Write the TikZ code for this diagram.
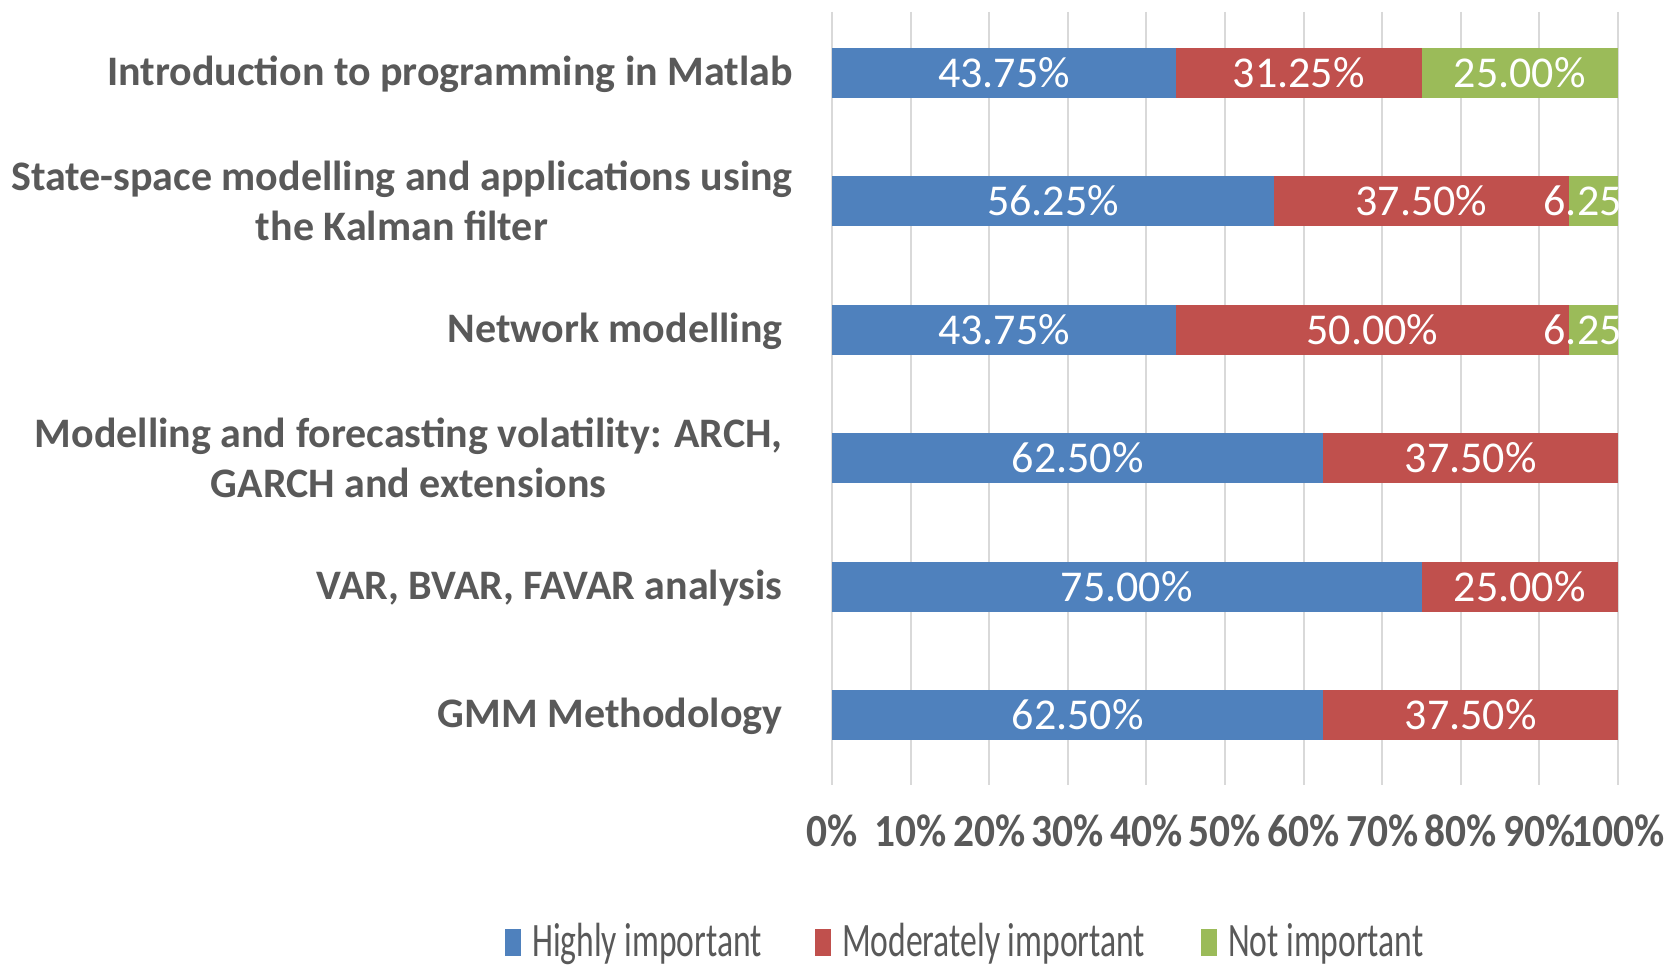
\documentclass[tikz,border=0pt]{standalone}
\usepackage{fontspec}
\setmainfont{Carlito}
\usetikzlibrary{positioning}
\definecolor{hiblue}{HTML}{4F81BD}
\definecolor{modred}{HTML}{C0504D}
\definecolor{notgreen}{HTML}{9BBB59}
\definecolor{gridgray}{HTML}{D9D9D9}
\definecolor{textgray}{HTML}{595959}

\begin{document}
\begin{tikzpicture}[x=0.5pt, y=-0.5pt,
    catlabel/.style={text=textgray, font=\fontsize{21}{25}\selectfont\bfseries, inner sep=0pt, align=center},
    val/.style={text=white, font=\fontsize{22}{26}\selectfont, inner sep=0pt},
    axlabel/.style={text=textgray, font=\fontsize{23}{27}\selectfont\bfseries, inner sep=0pt, xscale=0.9},
    legtext/.style={text=textgray, font=\fontsize{24}{28}\selectfont, inner sep=0pt, xscale=0.7},
    legmark/.style={minimum width=8pt, minimum height=13.5pt, inner sep=0pt, anchor=south west},
    gridline/.style={gridgray, line width=1pt}]

    \useasboundingbox[fill=white] (0,0) rectangle (1677,967);

    % Area del grafico: x en porcentaje
    \begin{scope}[shift={(832,0)}, x=3.93pt]
        % Lineas de la rejilla y etiquetas del eje
        \foreach \p in {0,10,...,100} {
            \draw[gridline] (\p,12) -- (\p,785);
            \node[axlabel, anchor=base] (ax\p) at (\p,847) {\p\%};
        }

        % Barras apiladas
        \fill[hiblue] (0,48) rectangle (43.75,98);
        \fill[modred] (43.75,48) rectangle (75,98);
        \fill[notgreen] (75,48) rectangle (100,98);

        \fill[hiblue] (0,176) rectangle (56.25,226);
        \fill[modred] (56.25,176) rectangle (93.75,226);
        \fill[notgreen] (93.75,176) rectangle (100,226);

        \fill[hiblue] (0,305) rectangle (43.75,355);
        \fill[modred] (43.75,305) rectangle (93.75,355);
        \fill[notgreen] (93.75,305) rectangle (100,355);

        \fill[hiblue] (0,433) rectangle (62.5,483);
        \fill[modred] (62.5,433) rectangle (100,483);

        \fill[hiblue] (0,562) rectangle (75,612);
        \fill[modred] (75,562) rectangle (100,612);

        \fill[hiblue] (0,690) rectangle (62.5,740);
        \fill[modred] (62.5,690) rectangle (100,740);

        % Valores dentro de las barras (recortados al area)
        \begin{scope}
            \clip (0,0) rectangle (100,800);
            \node[val] (v11) at (21.875,73) {43.75\%};
            \node[val] (v12) at (59.375,73) {31.25\%};
            \node[val] (v13) at (87.5,73) {25.00\%};

            \node[val] (v21) at (28.125,201) {56.25\%};
            \node[val] (v22) at (75,201) {37.50\%};
            \node[val] (v23) at (97.5,201) {6.25\%};

            \node[val] (v31) at (21.875,330) {43.75\%};
            \node[val] (v32) at (68.75,330) {50.00\%};
            \node[val] (v33) at (97.5,330) {6.25\%};

            \node[val] (v41) at (31.25,458) {62.50\%};
            \node[val] (v42) at (81.25,458) {37.50\%};

            \node[val] (v51) at (37.5,587) {75.00\%};
            \node[val] (v52) at (87.5,587) {25.00\%};

            \node[val] (v61) at (31.25,715) {62.50\%};
            \node[val] (v62) at (81.25,715) {37.50\%};
        \end{scope}
    \end{scope}

    % Etiquetas de las categorias
    \node[catlabel, anchor=base east] (cat1) at (793,86) {Introduction to programming in Matlab};
    \node[catlabel, anchor=east] (cat2) at (793,201) {State-space modelling and applications using\\the Kalman filter};
    \node[catlabel, anchor=base east] (cat3) at (783,343) {Network modelling};
    \node[catlabel, anchor=east] (cat4) at (783,458) {Modelling and forecasting volatility: ARCH,\\GARCH and extensions};
    \node[catlabel, anchor=base east] (cat5) at (783,600) {VAR, BVAR, FAVAR analysis};
    \node[catlabel, anchor=base east] (cat6) at (783,728) {GMM Methodology};

    % Leyenda
    \node[legmark, fill=hiblue] (mkHigh) at (505,956) {};
    \node[legtext, base right=5pt of mkHigh.south east] (txtHigh) {Highly important};
    \node[legmark, fill=modred] (mkMod) at (815,956) {};
    \node[legtext, base right=5pt of mkMod.south east] (txtMod) {Moderately important};
    \node[legmark, fill=notgreen] (mkNot) at (1201,956) {};
    \node[legtext, base right=5pt of mkNot.south east] (txtNot) {Not important};

\end{tikzpicture}
\end{document}
